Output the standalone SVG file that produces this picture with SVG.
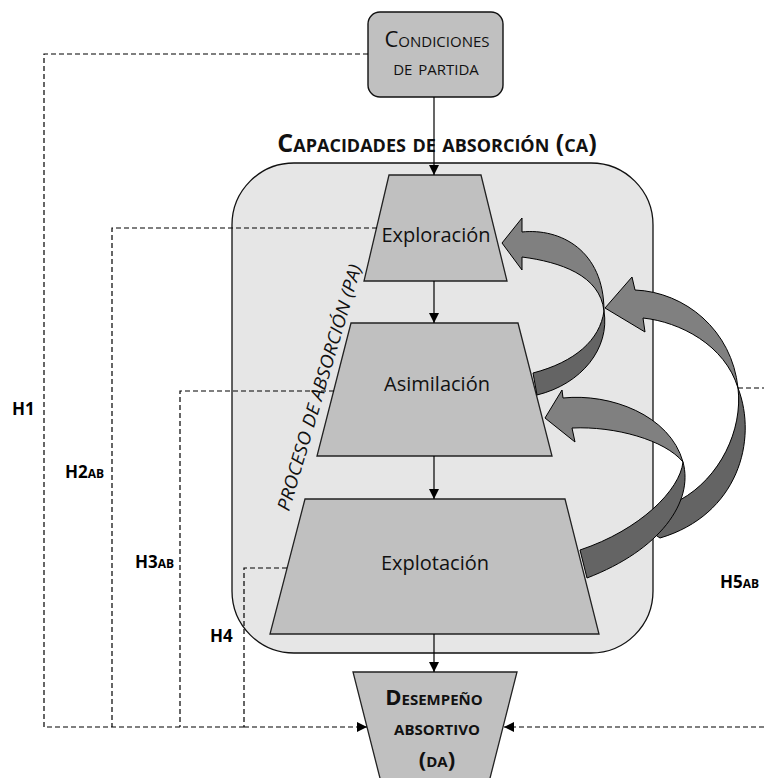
<svg xmlns="http://www.w3.org/2000/svg" width="764" height="778" viewBox="0 0 764 778">
<defs>
<marker id="ah" viewBox="0 0 10 10" refX="10" refY="5" markerWidth="10" markerHeight="10" markerUnits="userSpaceOnUse" orient="auto"><path d="M0,0 L10,5 L0,10 Z" fill="#000"/></marker>
</defs>
<style>
.trap{fill:#c0c0c0;stroke:#222;stroke-width:1.3}
.dash{fill:none;stroke:#000;stroke-width:1.2;stroke-dasharray:5,3}
.solid{fill:none;stroke:#000;stroke-width:1.2}
.t{font-family:"Open Sans","Liberation Sans",sans-serif;fill:#111}
.sc{font-variant:small-caps}
.hl{font-family:"Open Sans","Liberation Sans",sans-serif;font-weight:bold;font-size:17px;font-variant:small-caps;fill:#000}
.light{fill:#808080;stroke:#000;stroke-width:1}
.dark{fill:#646464;stroke:#000;stroke-width:1}
</style>
<rect width="764" height="778" fill="#fff"/>

<g id="ca">
<rect x="232" y="163" width="421" height="490" rx="62" ry="62" fill="#e6e6e6" stroke="#111" stroke-width="1.3"/>
<text class="t sc" x="437" y="152" text-anchor="middle" font-size="25" font-weight="bold">Capacidades de absorción (ca)</text>
<text class="t" transform="translate(289,512) rotate(-73.5)" font-size="18" font-style="italic" fill="#222" textLength="256" lengthAdjust="spacingAndGlyphs">PROCESO DE ABSORCIÓN (PA)</text>
</g>

<g id="condiciones">
<rect x="368" y="12" width="135" height="85" rx="12" ry="12" fill="#c0c0c0" stroke="#111" stroke-width="1.4"/>
<text class="t sc" x="437" y="47" text-anchor="middle" font-size="22">Condiciones</text>
<text class="t sc" x="436" y="75" text-anchor="middle" font-size="22">de partida</text>
</g>

<g id="exploracion">
<polygon class="trap" points="389,175 481,175 507,281 364,281"/>
<text class="t" x="436" y="242" text-anchor="middle" font-size="20">Exploración</text>
</g>

<g id="asimilacion">
<polygon class="trap" points="351,323 518,323 552,456 317,456"/>
<text class="t" x="437" y="391" text-anchor="middle" font-size="20">Asimilación</text>
</g>

<g id="explotacion">
<polygon class="trap" points="305,499 565,499 599,634 270,634"/>
<text class="t" x="435" y="570" text-anchor="middle" font-size="20">Explotación</text>
</g>

<g id="desempeno">
<polygon class="trap" points="353,672 517,672 487,790 383,790"/>
<text class="t sc" x="434" y="705" text-anchor="middle" font-size="22" font-weight="bold">Desempeño</text>
<text class="t sc" x="437" y="735" text-anchor="middle" font-size="22" font-weight="bold">absortivo</text>
<text class="t sc" x="437" y="767" text-anchor="middle" font-size="22" font-weight="bold">(da)</text>
</g>

<g id="connectors">
<line class="solid" x1="434" y1="97" x2="434" y2="175" marker-end="url(#ah)"/>
<line class="solid" x1="434" y1="281" x2="434" y2="323" marker-end="url(#ah)"/>
<line class="solid" x1="434" y1="456" x2="434" y2="499" marker-end="url(#ah)"/>
<line class="solid" x1="434" y1="634" x2="434" y2="672" marker-end="url(#ah)"/>
<polyline class="dash" points="368,54 44,54 44,727 244,727"/>
<polyline class="dash" points="377,228 112,228 112,727"/>
<polyline class="dash" points="334,391 180,391 180,727"/>
<polyline class="dash" points="287,568 244,568 244,727"/>
<line class="dash" x1="244" y1="727" x2="367" y2="727" marker-end="url(#ah)"/>
<line class="dash" x1="764" y1="727" x2="504" y2="727" marker-end="url(#ah)"/>
<line class="dash" x1="738" y1="388" x2="764" y2="388"/>
</g>

<g id="feedback-arrows">
<path class="dark" d="M738,388 C758,440 738,515 660,538 L645,528 L680,500 C720,478 743,430 738,388 Z"/>
<path class="light" d="M605,308 L632,277 L635,290 C685,292 732,330 738,388 C725,345 680,322 643,318 L645,332 Z"/>
<path class="dark" d="M604,311 C610,348 582,384 537,395 L533,373 C575,362 600,340 604,311 Z"/>
<path class="light" d="M502,243 L522,218 L522,232 C560,228 604,250 604,311 C600,275 560,262 522,257 L522,270 Z"/>
<path class="dark" d="M683,462 C694,502 660,550 587,578 L580,550 C640,530 680,490 683,462 Z"/>
<path class="light" d="M545,418 L562,390 L563,398 C610,393 670,415 683,462 C665,440 615,426 572,428 L575,442 Z"/>
</g>

<g id="labels">
<text class="hl" x="12" y="415">H1</text>
<text class="hl" x="65" y="478">H2ab</text>
<text class="hl" x="135" y="568">H3ab</text>
<text class="hl" x="210" y="642">H4</text>
<text class="hl" x="720" y="588">H5ab</text>
</g>
</svg>
